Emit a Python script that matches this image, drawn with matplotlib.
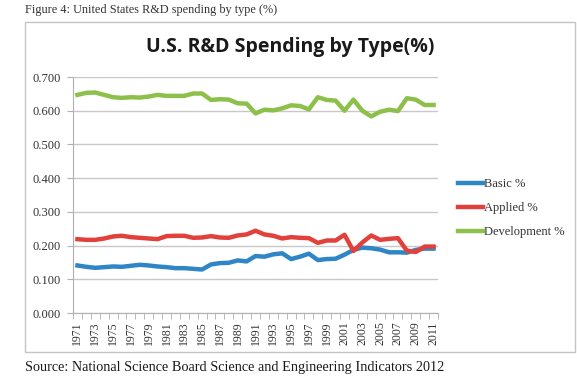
import matplotlib
matplotlib.use("Agg")
import matplotlib.pyplot as plt
from matplotlib.patches import Rectangle
from matplotlib.ticker import FixedLocator, FormatStrFormatter

years = list(range(1971, 2012))
basic = [0.141, 0.137, 0.134, 0.136, 0.138, 0.137, 0.140, 0.143, 0.141, 0.138,
         0.136, 0.133, 0.133, 0.131, 0.129, 0.144, 0.148, 0.149, 0.156, 0.153,
         0.169, 0.167, 0.174, 0.177, 0.160, 0.167, 0.176, 0.157, 0.160, 0.161,
         0.173, 0.187, 0.194, 0.192, 0.188, 0.180, 0.180, 0.179, 0.187, 0.191,
         0.191]
applied = [0.219, 0.217, 0.217, 0.221, 0.227, 0.229, 0.225, 0.223, 0.221, 0.219,
           0.228, 0.229, 0.229, 0.223, 0.224, 0.228, 0.224, 0.223, 0.230, 0.233,
           0.244, 0.233, 0.229, 0.221, 0.225, 0.223, 0.222, 0.208, 0.215, 0.215,
           0.232, 0.184, 0.209, 0.230, 0.217, 0.220, 0.222, 0.185, 0.181, 0.197,
           0.197]
development = [0.647, 0.653, 0.654, 0.647, 0.640, 0.638, 0.640, 0.639, 0.642, 0.647,
               0.644, 0.644, 0.644, 0.651, 0.651, 0.632, 0.634, 0.633, 0.622, 0.621,
               0.592, 0.603, 0.601, 0.607, 0.616, 0.614, 0.604, 0.640, 0.632, 0.630,
               0.600, 0.633, 0.600, 0.583, 0.597, 0.603, 0.599, 0.637, 0.633, 0.617,
               0.617]
series_names = ["Basic %", "Applied %", "Development %"]
series_colors = ["#2F86C6", "#E2413B", "#8DC04B"]
yticks = [0.0, 0.1, 0.2, 0.3, 0.4, 0.5, 0.6, 0.7]

W, H = 577, 384
fig = plt.figure(figsize=(W / 100, H / 100), dpi=100)
serif = ["Liberation Serif", "DejaVu Serif"]

# outer chart frame
fig.patches.append(Rectangle((25 / W, 1 - 352 / H), 550 / W, (352 - 22) / H,
                             transform=fig.transFigure, fill=False,
                             edgecolor="#c4c4c4", linewidth=1.0))

fig.text(25 / W, 1 - 10 / H, "Figure 4: United States R&D spending by type (%)",
         family=serif, fontsize=8.8, color="#333333", va="center", ha="left")
fig.text(290 / W, 1 - 47 / H, "U.S. R&D Spending by Type(%)",
         family=["Open Sans", "DejaVu Sans"], fontweight="bold", fontsize=14,
         color="#1a1a1a", va="center", ha="center")
fig.text(25 / W, 1 - 367 / H,
         "Source: National Science Board Science and Engineering Indicators 2012",
         family=serif, fontsize=10.3, color="#1a1a1a", va="center", ha="left")

ax = fig.add_axes([73 / W, 1 - 313 / H, (438 - 73) / W, (313 - 77) / H])
x = list(range(len(years)))
for vals, name, col in zip([basic, applied, development], series_names, series_colors):
    ax.plot(x, vals, color=col, linewidth=3.2, label=name, solid_joinstyle="round")

ax.set_xlim(-0.5, len(years) - 0.5)
ax.set_ylim(0, 0.7)
ax.set_yticks(yticks)
ax.yaxis.set_major_formatter(FormatStrFormatter("%.3f"))
ax.grid(axis="y", color="#c8c8c8", linewidth=1.0)
ax.set_axisbelow(True)
for s in ["top", "right"]:
    ax.spines[s].set_visible(False)
ax.spines["left"].set_color("#b0b0b0")
ax.spines["bottom"].set_color("#b0b0b0")
ax.tick_params(axis="y", length=4, color="#b0b0b0", labelsize=9, labelcolor="#333333", pad=5)
for lab in ax.get_yticklabels():
    lab.set_family(serif)

ax.set_xticks(x[::2])
ax.set_xticklabels([str(y) for y in years[::2]], rotation=90, family=serif,
                   fontsize=8.5, color="#333333")
ax.tick_params(axis="x", which="major", length=0, pad=6)
ax.xaxis.set_minor_locator(FixedLocator([i - 0.5 for i in range(len(years) + 1)]))
ax.tick_params(axis="x", which="minor", length=4, color="#b0b0b0")

leg = ax.legend(loc="center left", bbox_to_anchor=(447 / W, 1 - 208 / H),
                bbox_transform=fig.transFigure, frameon=False,
                prop={"family": serif, "size": 9}, handlelength=2.0,
                handletextpad=0.1, labelspacing=0.95)
for t in leg.get_texts():
    t.set_color("#333333")

fig.savefig("out.png", dpi=100)
